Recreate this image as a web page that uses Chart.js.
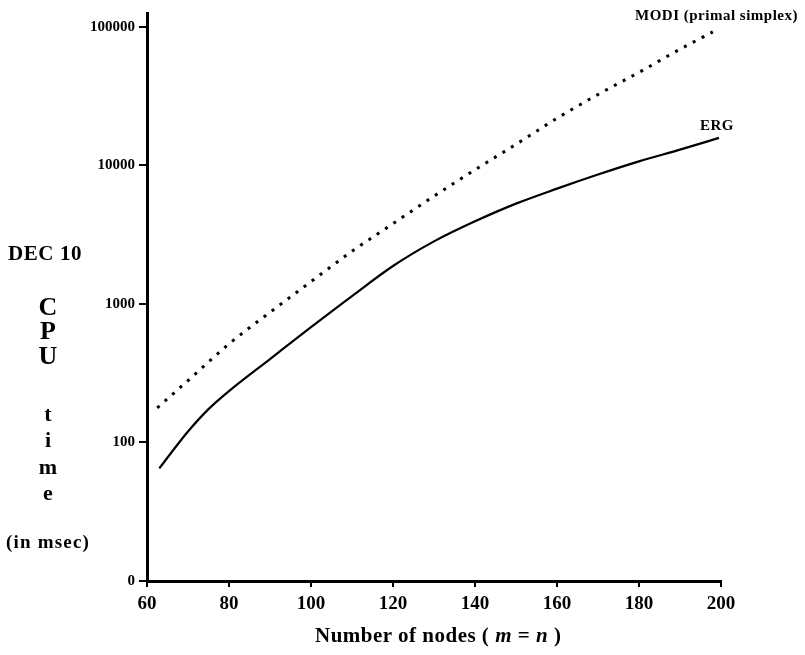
<!DOCTYPE html>
<html>
<head>
<meta charset="utf-8">
<title>CPU time vs number of nodes</title>
<script src="https://cdn.jsdelivr.net/npm/chart.js@4.4.0/dist/chart.umd.min.js"></script>
<style>
  body { margin: 0; background: #fff; }
  #wrap { position: relative; width: 805px; height: 655px; }
  #chart { position: absolute; left: 0; top: 0; }
  .lbl {
    position: absolute;
    font-family: "Liberation Serif", "DejaVu Serif", serif;
    font-weight: bold;
    color: #000;
    white-space: nowrap;
  }
  .side { left: 0; width: 96px; text-align: center; line-height: 30px; }
</style>
</head>
<body>
<div id="wrap">
  <canvas id="chart" width="805" height="655"></canvas>

  <!-- y axis caption, stacked letters like the original -->
  <div class="lbl" style="left:8px; top:240px; font-size:21px; line-height:26px; letter-spacing:0.6px;">DEC 10</div>
  <div class="lbl side" style="top:292px; font-size:26px;">C</div>
  <div class="lbl side" style="top:316px; font-size:26px;">P</div>
  <div class="lbl side" style="top:341px; font-size:26px;">U</div>
  <div class="lbl side" style="top:399px; font-size:22px;">t</div>
  <div class="lbl side" style="top:425px; font-size:22px;">i</div>
  <div class="lbl side" style="top:452px; font-size:22px;">m</div>
  <div class="lbl side" style="top:478px; font-size:22px;">e</div>
  <div class="lbl" style="left:6px; top:527px; font-size:19px; line-height:30px; letter-spacing:1.2px;">(in msec)</div>

  <!-- series labels -->
  <div class="lbl" style="left:635px; top:5px; font-size:15px; line-height:20px; letter-spacing:0.5px;">MODI (primal simplex)</div>
  <div class="lbl" style="left:700px; top:115px; font-size:15px; line-height:20px; letter-spacing:0.5px;">ERG</div>

  <!-- x axis title -->
  <div class="lbl" style="left:315px; top:621px; font-size:21px; line-height:28px; letter-spacing:0.5px;">Number of nodes ( <i>m</i> = <i>n</i> )</div>
</div>

<script>
// number of nodes (m = n)
const ergNodes = [63, 66, 70, 75, 80, 90, 100, 110, 120, 130, 140, 150, 160, 170, 180, 190, 199.5];
// ERG cpu time (msec)
const ergTime = [65, 85, 120, 174, 235, 400, 680, 1140, 1880, 2830, 3950, 5300, 6800, 8600, 10700, 13000, 15800];

const modiNodes = [62.5, 70, 80, 90, 100, 110, 120, 130, 140, 150, 160, 170, 180, 190, 198];
// MODI (primal simplex) cpu time (msec)
const modiTime = [178, 280, 515, 870, 1450, 2400, 3800, 6000, 9300, 14200, 21900, 32500, 47000, 69000, 92000];

const xTicks = [60, 80, 100, 120, 140, 160, 180, 200];
const yTicks = [10, 100, 1000, 10000, 100000];
const yTickLabels = ["0", "100", "1000", "10000", "100000"];

const serif = "'Liberation Serif', 'DejaVu Serif', serif";

function toPoints(xs, ys) {
  return xs.map((x, i) => ({ x: x, y: ys[i] }));
}

const ctx = document.getElementById("chart");

new Chart(ctx, {
  type: "line",
  data: {
    datasets: [
      {
        label: "ERG",
        data: toPoints(ergNodes, ergTime),
        borderColor: "#000",
        borderWidth: 2.2,
        pointRadius: 0,
        cubicInterpolationMode: "monotone",
        fill: false,
      },
      {
        label: "MODI (primal simplex)",
        data: toPoints(modiNodes, modiTime),
        borderColor: "#000",
        borderWidth: 3,
        borderDash: [3, 7],
        pointRadius: 0,
        cubicInterpolationMode: "monotone",
        fill: false,
      },
    ],
  },
  options: {
    responsive: false,
    animation: false,
    layout: { padding: { top: 13, right: 84, bottom: 0, left: 0 } },
    plugins: {
      legend: { display: false },
      tooltip: { enabled: false },
    },
    scales: {
      x: {
        type: "linear",
        min: 60,
        max: 200,
        afterBuildTicks: (scale) => {
          scale.ticks = xTicks.map((v) => ({ value: v }));
        },
        afterFit: (scale) => {
          scale.height = 74;
        },
        ticks: {
          color: "#000",
          padding: 6,
          maxRotation: 0,
          font: { family: serif, size: 19, weight: "bold" },
        },
        grid: {
          drawOnChartArea: false,
          drawTicks: true,
          tickLength: 6,
          color: "#000",
          lineWidth: 2,
        },
        border: { color: "#000", width: 3 },
      },
      y: {
        type: "logarithmic",
        min: 10,
        max: 126000,
        afterBuildTicks: (scale) => {
          scale.ticks = yTicks.map((v) => ({ value: v }));
        },
        afterFit: (scale) => {
          scale.width = 147;
        },
        ticks: {
          color: "#000",
          padding: 4,
          font: { family: serif, size: 15, weight: "bold" },
          callback: (v) => yTickLabels[yTicks.indexOf(v)] ?? "",
        },
        grid: {
          drawOnChartArea: false,
          drawTicks: true,
          tickLength: 8,
          color: "#000",
          lineWidth: 2,
        },
        border: { color: "#000", width: 3 },
      },
    },
  },
});
</script>
</body>
</html>
